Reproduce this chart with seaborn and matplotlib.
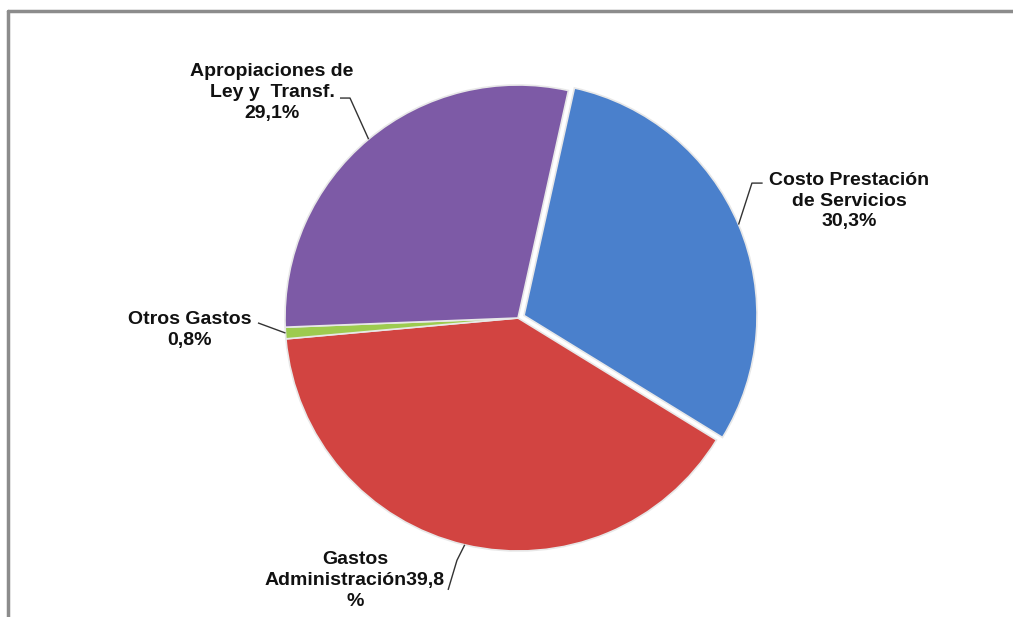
"""
Pie chart of expense distribution (Costo, Gastos, Otros, Apropiaciones).
"""
import matplotlib.pyplot as plt
import numpy as np
import seaborn as sns
from matplotlib.lines import Line2D

names = [
    "Costo Prestación\nde Servicios",
    "Gastos\nAdministración",
    "Otros Gastos",
    "Apropiaciones de\nLey y  Transf.",
]
shares = [30.3, 39.8, 0.8, 29.1]
colors = ["#4a80cc", "#d24441", "#9dcb4f", "#7d5aa6"]
explode = [0.028, 0.0, 0.0, 0.0]

# label texts as shown in the chart (Spanish decimal comma)
label_texts = [
    "Costo Prestación\nde Servicios\n30,3%",
    "Gastos\nAdministración39,8\n%",
    "Otros Gastos\n0,8%",
    "Apropiaciones de\nLey y  Transf.\n29,1%",
]
# text centre and leader elbow (data units, pie radius = 1)
text_pos = [(1.421, 0.502), (-0.700, -1.127), (-1.408, -0.050), (-1.056, 0.968)]
elbows = [
    [(1.004, 0.579), (1.050, 0.579)],
    [(-0.262, -1.040), (-0.300, -1.167)],
    [(-1.116, -0.021)],
    [(-0.721, 0.944), (-0.764, 0.944)],
]

sns.set_theme(style="white")
plt.rcParams["font.family"] = ["Liberation Sans", "DejaVu Sans"]

fig = plt.figure(figsize=(10.13, 6.17), dpi=100)
ax = fig.add_axes([0, 0, 1, 1])

wedges, _ = ax.pie(
    shares,
    colors=colors,
    explode=explode,
    startangle=77.5,
    counterclock=False,
    wedgeprops=dict(edgecolor="#e8e8e8", linewidth=1.2),
)

for w, txt, pos, elb in zip(wedges, label_texts, text_pos, elbows):
    mid = np.deg2rad((w.theta1 + w.theta2) / 2)
    cx, cy = w.center
    x0, y0 = cx + w.r * np.cos(mid), cy + w.r * np.sin(mid)
    xs = [x0] + [p[0] for p in elb]
    ys = [y0] + [p[1] for p in elb]
    ax.plot(xs, ys, color="#333333", lw=1.0, solid_capstyle="butt")
    ax.text(pos[0], pos[1], txt, ha="center", va="center", fontsize=14,
            fontweight="bold", color="#111111", linespacing=1.3)

# pixel-consistent limits: centre at (518, 318) px, radius 233 px
r_px = 233
ax.set_xlim(-518 / r_px, (1013 - 518) / r_px)
ax.set_ylim(-(617 - 318) / r_px, 318 / r_px)
ax.set_aspect("equal", adjustable="datalim")
ax.axis("off")

# chart frame (top and left edges visible)
fig.add_artist(Line2D([7.5 / 1013, 1.0], [1 - 10.5 / 617, 1 - 10.5 / 617],
                      transform=fig.transFigure, color="#8c8c8c", lw=2.5))
fig.add_artist(Line2D([7.5 / 1013, 7.5 / 1013], [0, 1 - 10.5 / 617],
                      transform=fig.transFigure, color="#8c8c8c", lw=2.5))

fig.savefig("out.png", dpi=100)
